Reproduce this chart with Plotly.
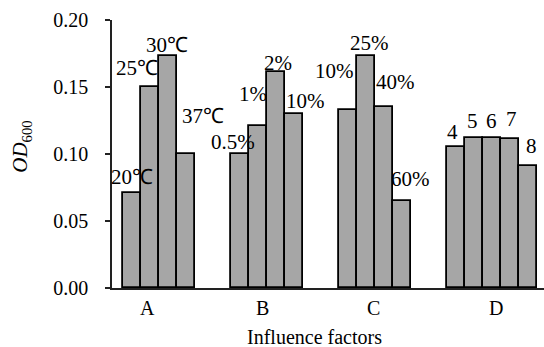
import plotly.graph_objects as go

# ---- data ----
groups = ["A", "B", "C", "D"]
labels_A = ["20℃", "25℃", "30℃", "37℃"]
labels_B = ["0.5%", "1%", "2%", "10%"]
labels_C = ["10%", "25%", "40%", "60%"]
labels_D = ["4", "5", "6", "7", "8"]
values_A = [0.071, 0.150, 0.173, 0.100]
values_B = [0.100, 0.121, 0.161, 0.130]
values_C = [0.133, 0.173, 0.135, 0.065]
values_D = [0.105, 0.112, 0.112, 0.111, 0.091]
y_ticks = [0.00, 0.05, 0.10, 0.15, 0.20]
y_tick_text = ["0.00", "0.05", "0.10", "0.15", "0.20"]

# ---- layout helpers (pixel offsets of the bar labels) ----
label_dx = [[0, -13, -1, 17], [-7, -5, 2, 12], [-13, 4, 12, 9], [-3, -1, 0, 2, 4]]
label_dy = [[16, 19, 11, 38], [12, 32, 9, 13], [39, 13, 25, 22], [15, 17, 17, 20, 20]]
group_label_dx = [-11, -4, -1, 4]
GROUP_STEP = 6

all_labels = [labels_A, labels_B, labels_C, labels_D]
all_values = [values_A, values_B, values_C, values_D]

xs, ys = [], []
for g, vals in enumerate(all_values):
    for j, v in enumerate(vals):
        xs.append(g * GROUP_STEP + j)
        ys.append(v)

FONT = "Liberation Serif"

fig = go.Figure()
fig.add_trace(go.Bar(
    x=xs, y=ys, width=1,
    marker=dict(color="#a6a6a6", line=dict(color="#000000", width=1.8)),
    showlegend=False, hoverinfo="skip",
))

annotations = []
for g, (labs, vals) in enumerate(zip(all_labels, all_values)):
    for j, (lab, v) in enumerate(zip(labs, vals)):
        annotations.append(dict(
            x=g * GROUP_STEP + j, y=v, xref="x", yref="y", text=lab,
            showarrow=False, xanchor="center", yanchor="middle",
            xshift=label_dx[g][j], yshift=label_dy[g][j],
            font=dict(family=FONT, size=21, color="#000"),
        ))
    center = g * GROUP_STEP + (len(vals) - 1) / 2
    annotations.append(dict(
        x=center, y=0, xref="x", yref="y", text=groups[g], showarrow=False,
        xanchor="center", yanchor="middle", xshift=group_label_dx[g], yshift=-20,
        font=dict(family=FONT, size=20, color="#000"),
    ))

annotations.append(dict(
    x=0.469, y=0, xref="paper", yref="paper", text="Influence factors",
    showarrow=False, xanchor="center", yanchor="middle", yshift=-49,
    font=dict(family=FONT, size=20, color="#000"),
))
annotations.append(dict(
    x=-0.2106, y=0.527, xref="paper", yref="paper",
    text="<i>OD</i><sub>600</sub>", textangle=-90,
    showarrow=False, xanchor="center", yanchor="middle",
    font=dict(family=FONT, size=21, color="#000"),
))

fig.update_layout(
    width=544, height=347,
    margin=dict(l=112, r=0, t=20, b=59, pad=0),
    plot_bgcolor="white", paper_bgcolor="white",
    font=dict(family=FONT, size=20, color="#000"),
    bargap=0,
    annotations=annotations,
    xaxis=dict(range=[-1.11, 22.9], showgrid=False, zeroline=False,
               showline=True, linecolor="#222", linewidth=1.5,
               showticklabels=False, ticks=""),
    yaxis=dict(range=[0, 0.2], showgrid=False, zeroline=False,
               showline=True, linecolor="#222", linewidth=1.5,
               tickvals=y_ticks, ticktext=y_tick_text,
               ticks="outside", ticklen=5, tickcolor="#222", tickwidth=1.5,
               ticklabelstandoff=13,
               tickfont=dict(family=FONT, size=20, color="#000")),
)

fig.write_html("out.html")
